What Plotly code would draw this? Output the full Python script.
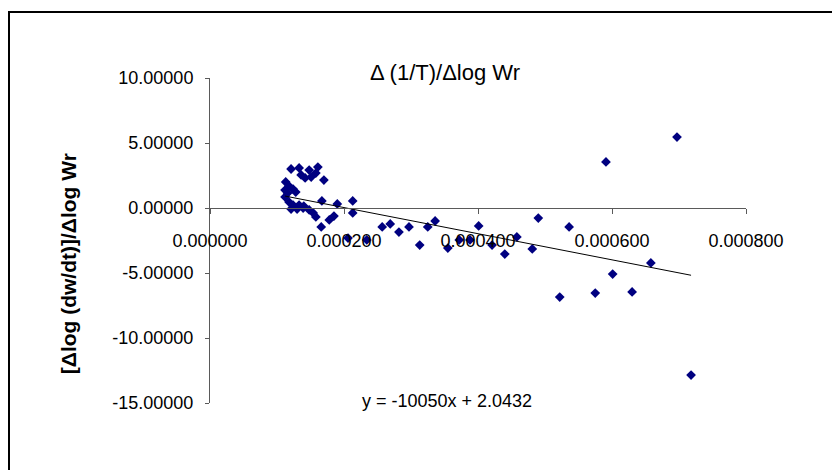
import plotly.graph_objects as go

# Δ(1/T) values (x) and [Δlog(dw/dt)]/Δlog Wr values (y)
x_vals = [
    0.000121, 0.000133, 0.000148, 0.000161, 0.000170, 0.000158, 0.000151, 0.000142,
    0.000136, 0.000113, 0.000118, 0.000124, 0.000128, 0.000112, 0.000118, 0.000124,
    0.000133, 0.000140, 0.000121, 0.000130, 0.000139, 0.000148, 0.000154, 0.000158,
    0.000166, 0.000167, 0.000178, 0.000185, 0.000190, 0.000213, 0.000213, 0.000206,
    0.000112, 0.000116, 0.000234, 0.000257, 0.000269, 0.000282, 0.000297, 0.000313,
    0.000325, 0.000336, 0.000355, 0.000372, 0.000388, 0.000401, 0.000421, 0.000440,
    0.000458, 0.000481, 0.000490, 0.000522, 0.000536, 0.000575, 0.000591, 0.000601,
    0.000630, 0.000658, 0.000697, 0.000718,
]
y_vals = [
    3.00, 3.08, 2.92, 3.15, 2.15, 2.69, 2.38, 2.31,
    2.54, 2.00, 1.69, 1.46, 1.23, 0.85, 0.46, 0.23,
    0.23, 0.15, -0.08, -0.08, 0.00, -0.15, -0.38, -0.69,
    -1.46, 0.54, -0.92, -0.62, 0.31, 0.54, -0.38, -2.31,
    1.38, 1.15, -2.46, -1.46, -1.23, -1.85, -1.46, -2.85,
    -1.46, -1.00, -3.08, -2.46, -2.46, -1.38, -2.85, -3.54,
    -2.23, -3.15, -0.77, -6.85, -1.46, -6.54, 3.54, -5.08,
    -6.46, -4.23, 5.46, -12.85,
]

# Linear trend line coefficients
slope = -10050
intercept = 2.0432
trend_x = [min(x_vals), max(x_vals)]
trend_y = [slope * v + intercept for v in trend_x]

x_ticks = [0.0, 0.0002, 0.0004, 0.0006, 0.0008]
x_tick_labels = ["0.000000", "0.000200", "0.000400", "0.000600", "0.000800"]
y_ticks = [10, 5, 0, -5, -10, -15]
y_tick_labels = ["10.00000", "5.00000", "0.00000", "-5.00000", "-10.00000", "-15.00000"]

FONT = "Liberation Sans, Arial, sans-serif"
AXIS_COLOR = "#5a5a5a"

fig = go.Figure()
fig.add_trace(go.Scatter(
    x=x_vals, y=y_vals, mode="markers",
    marker=dict(symbol="diamond", size=7.5, color="#000080", line=dict(width=0)),
    showlegend=False, hoverinfo="x+y",
))
fig.add_trace(go.Scatter(
    x=trend_x, y=trend_y, mode="lines",
    line=dict(color="black", width=1),
    showlegend=False, hoverinfo="skip",
))

fig.update_layout(
    width=832, height=470,
    margin=dict(l=210, r=86, t=78, b=67),
    paper_bgcolor="white", plot_bgcolor="white",
    font=dict(family=FONT, size=18, color="black"),
    xaxis=dict(
        range=[0, 0.0008], tickvals=x_ticks, ticktext=x_tick_labels,
        anchor="free", position=0.6,
        showline=True, linecolor=AXIS_COLOR, linewidth=1,
        ticks="outside", ticklen=5, tickcolor=AXIS_COLOR, ticklabelstandoff=11,
        showgrid=False, zeroline=False,
    ),
    yaxis=dict(
        range=[-15, 10], tickvals=y_ticks, ticktext=y_tick_labels,
        showline=True, linecolor=AXIS_COLOR, linewidth=1,
        ticks="outside", ticklen=4, tickcolor=AXIS_COLOR, ticklabelstandoff=8,
        showgrid=False, zeroline=False,
    ),
    annotations=[
        dict(text="Δ (1/T)/Δlog Wr", xref="paper", yref="paper", x=0.438, y=1.018,
             xanchor="center", yanchor="middle", showarrow=False,
             font=dict(family=FONT, size=22)),
        dict(text="y = -10050x + 2.0432", xref="paper", yref="paper", x=0.443, y=0.006,
             xanchor="center", yanchor="middle", showarrow=False,
             font=dict(family=FONT, size=18)),
        dict(text="<b>[Δlog (dw/dt)]/Δlog Wr</b>", xref="paper", yref="paper",
             x=-0.265, y=0.43, xanchor="center", yanchor="middle", textangle=-90,
             showarrow=False, font=dict(family=FONT, size=21)),
    ],
    shapes=[
        dict(type="rect", xref="paper", yref="paper",
             x0=-0.375, y0=-0.3, x1=1.3, y1=1.203,
             line=dict(color="black", width=2), fillcolor="rgba(0,0,0,0)", layer="below"),
    ],
)

fig.write_html("out.html")
